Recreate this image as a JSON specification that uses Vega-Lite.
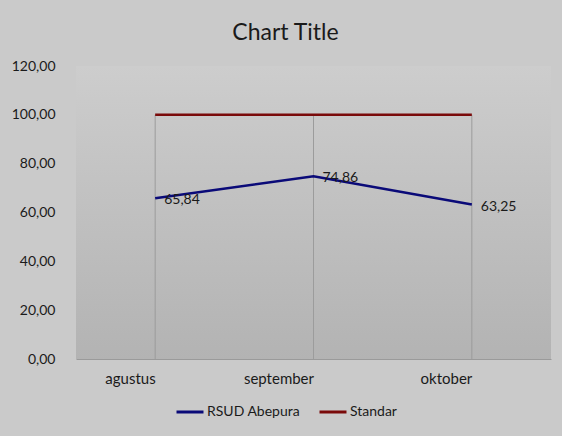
{
  "$schema": "https://vega.github.io/schema/vega-lite/v6.json",
  "width": 475,
  "height": 293,
  "autosize": {"type": "none"},
  "padding": {"left": 76, "top": 66, "right": 11, "bottom": 77},
  "background": "#cacaca",
  "config": {
    "locale": {"number": {"decimal": ",", "thousands": ".", "grouping": [3], "currency": ["", ""]}},
    "view": {"stroke": null},
    "font": "Lato"
  },
  "title": {"text": "Chart Title", "fontSize": 23, "fontWeight": "normal", "color": "#1a1a1a", "offset": 14, "dx": -28, "anchor": "middle", "frame": "group", "font": "Lato"},
  "data": {
    "values": [
      {"month": "agustus", "series": "RSUD Abepura", "value": 65.84},
      {"month": "september", "series": "RSUD Abepura", "value": 74.86},
      {"month": "oktober", "series": "RSUD Abepura", "value": 63.25},
      {"month": "agustus", "series": "Standar", "value": 100},
      {"month": "september", "series": "Standar", "value": 100},
      {"month": "oktober", "series": "Standar", "value": 100}
    ]
  },
  "layer": [
    {
      "mark": {"type": "rect", "fill": {"gradient": "linear", "x1": 0, "y1": 0, "x2": 0, "y2": 1, "stops": [{"offset": 0, "color": "#cdcdcd"}, {"offset": 1, "color": "#b3b3b3"}]}},
      "transform": [{"filter": "datum.month === 'agustus' && datum.series === 'Standar'"}],
      "encoding": {}
    },
    {
      "mark": {"type": "rule", "color": "#9c9c9c", "strokeWidth": 1},
      "transform": [{"filter": "datum.series === 'Standar'"}],
      "encoding": {
        "x": {"field": "month", "type": "ordinal", "sort": ["agustus", "september", "oktober"], "scale": {"type": "point", "padding": 0.5}},
        "y": {"field": "value", "type": "quantitative", "scale": {"domain": [0, 120]}},
        "y2": {"datum": 0}
      }
    },
    {
      "mark": {"type": "line", "strokeWidth": 2.5},
      "encoding": {
        "x": {"field": "month", "type": "ordinal", "sort": ["agustus", "september", "oktober"], "scale": {"type": "point", "padding": 0.5},
          "axis": {"title": null, "labelAngle": 0, "ticks": false, "grid": false, "domainColor": "#9a9a9a", "labelFontSize": 15, "labelColor": "#1a1a1a", "labelPadding": 19}},
        "y": {"field": "value", "type": "quantitative", "scale": {"domain": [0, 120]},
          "axis": {"values": [0, 20, 40, 60, 80, 100, 120], "format": ".2f", "title": null, "domain": false, "ticks": false, "grid": false, "labelPadding": 21, "labelFontSize": 14, "labelColor": "#1a1a1a"}},
        "color": {"field": "series", "type": "nominal", "scale": {"domain": ["RSUD Abepura", "Standar"], "range": ["#0a0a78", "#7a0a0a"]},
          "legend": {"orient": "none", "legendX": 99, "legendY": 331, "direction": "horizontal", "symbolType": "stroke", "symbolSize": 729, "symbolStrokeWidth": 3, "labelFontSize": 14, "labelColor": "#1a1a1a", "title": null, "columnPadding": 12, "labelOffset": 2}}
      }
    },
    {
      "mark": {"type": "text", "align": "left", "baseline": "middle", "dx": 9, "dy": 2, "fontSize": 14, "color": "#1a1a1a"},
      "transform": [{"filter": "datum.series === 'RSUD Abepura'"}],
      "encoding": {
        "x": {"field": "month", "type": "ordinal", "sort": ["agustus", "september", "oktober"], "scale": {"type": "point", "padding": 0.5}},
        "y": {"field": "value", "type": "quantitative", "scale": {"domain": [0, 120]}},
        "text": {"field": "value", "format": ".2f"}
      }
    }
  ]
}
